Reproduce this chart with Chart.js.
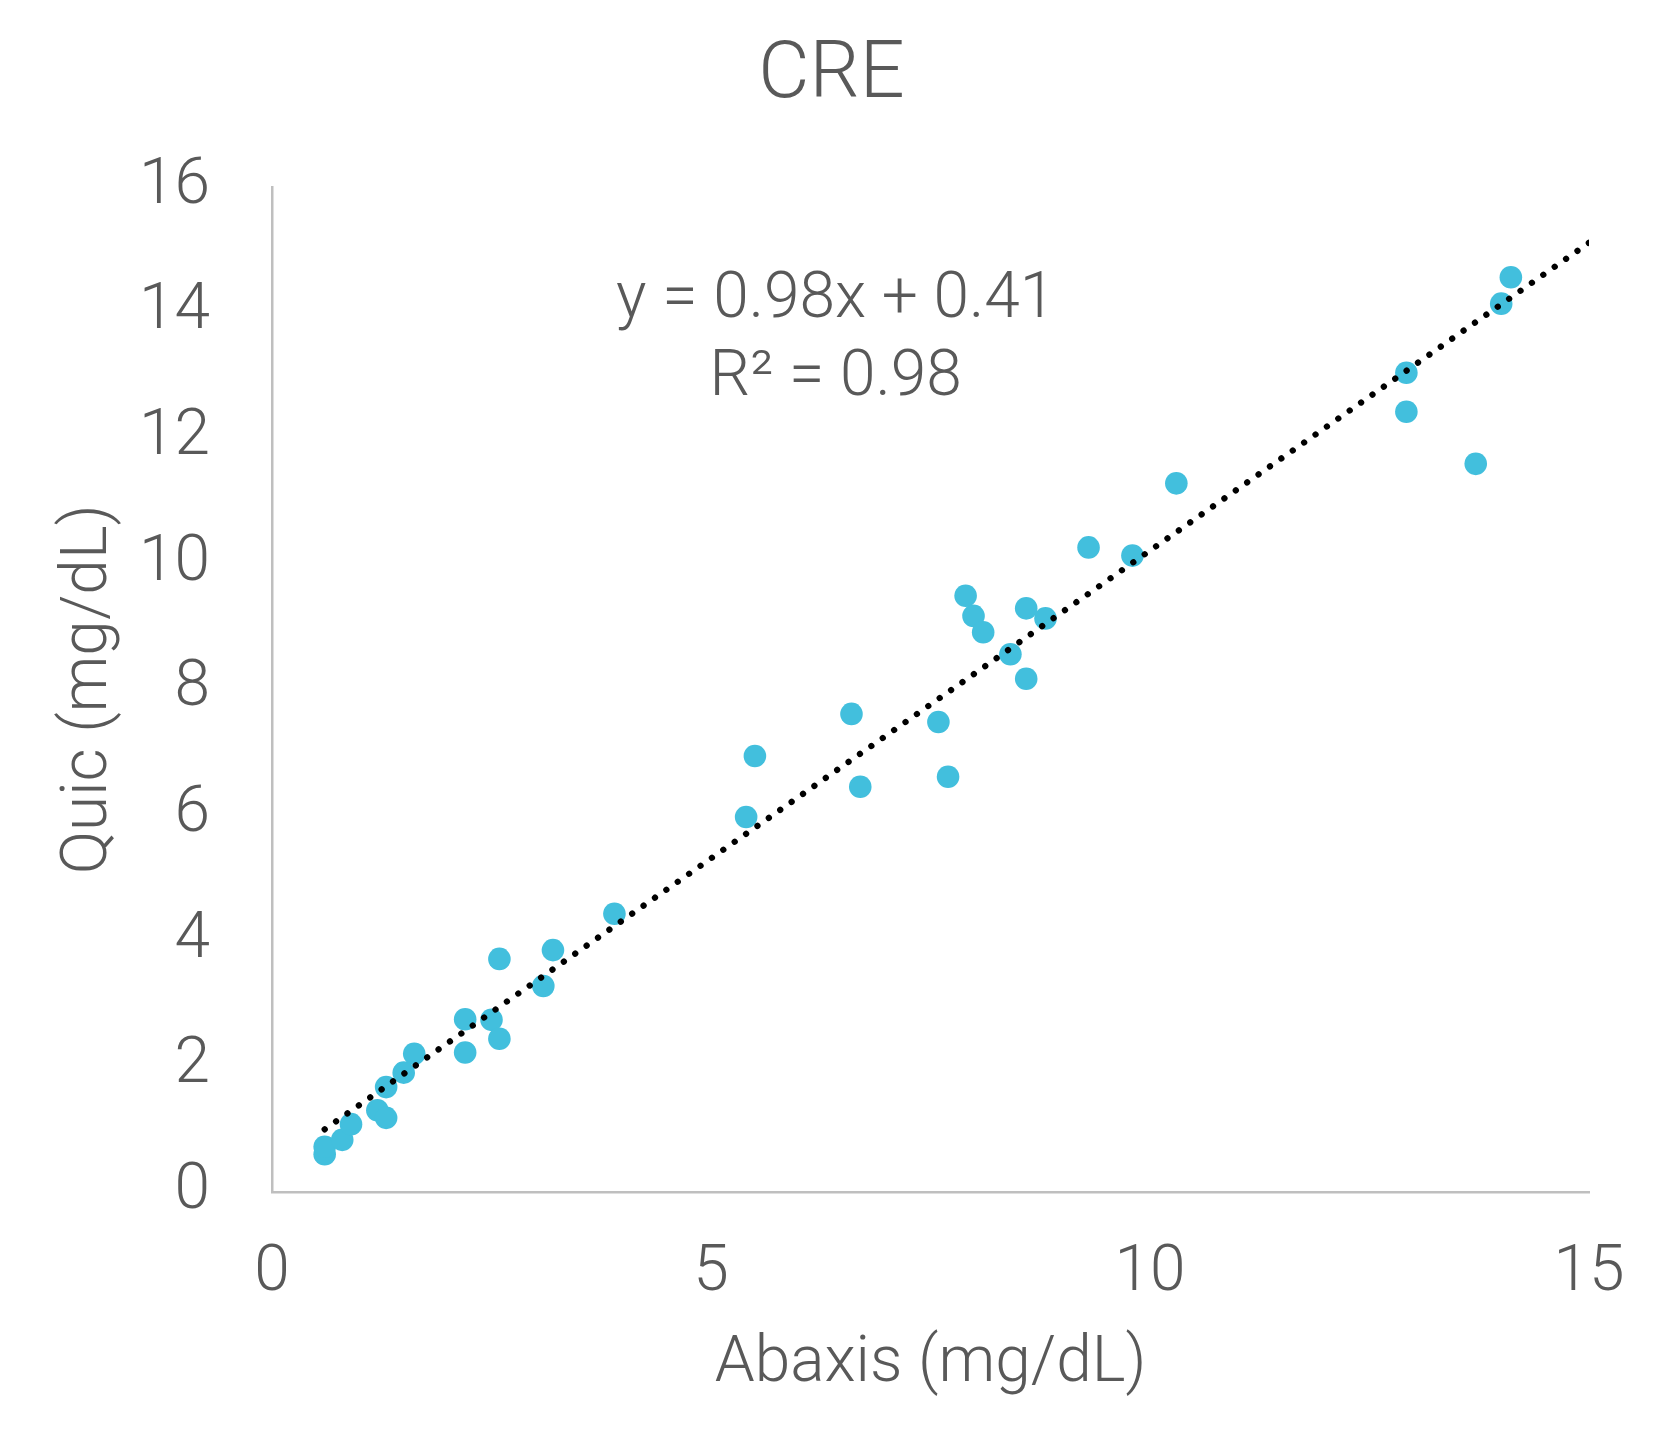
<!DOCTYPE html>
<html lang="en">
<head>
  <meta charset="UTF-8">
  <title>CRE</title>
  <script src="https://cdn.jsdelivr.net/npm/chart.js"></script>
  <style>
    body {
      margin: 0;
      padding: 0;
      background: #fff;
    }
    #wrap {
      width: 1663px;
      height: 1449px;
    }
  </style>
</head>
<body>
  <div id="wrap"><canvas id="creChart"></canvas></div>

  <script>
    // Abaxis vs Quic readings (mg/dL)
    const abaxis = [0.6, 0.6, 0.8, 0.9, 1.2, 1.3, 1.3, 1.5, 1.62, 2.2, 2.2, 2.5, 2.59, 2.59, 3.09, 3.2, 3.9,
      5.4, 5.5, 6.6, 6.7, 7.59, 7.7, 7.9, 7.99, 8.1, 8.41, 8.59, 8.59, 8.81, 9.3, 9.8, 10.3,
      12.92, 12.92, 13.71, 14.0, 14.11];
    const quic = [0.6, 0.72, 0.83, 1.08, 1.3, 1.18, 1.67, 1.9, 2.2, 2.22, 2.75, 2.74, 2.44, 3.71, 3.28, 3.85, 4.43,
      5.97, 6.94, 7.61, 6.45, 7.48, 6.61, 9.49, 9.17, 8.91, 8.56, 9.29, 8.17, 9.13, 10.26, 10.13, 11.28,
      13.04, 12.42, 11.59, 14.14, 14.56];

    // linear trendline ends, as drawn
    const trendX = [0.6, 15];
    const trendY = [0.998, 15.11];

    const xTicks = [0, 5, 10, 15];
    const yTicks = [0, 2, 4, 6, 8, 10, 12, 14, 16];

    const equationLines = ['y = 0.98x + 0.41', 'R\u00b2 = 0.98'];
    const equationAt = { x: 6.42, y: [13.92, 12.69] };

    const textGrey = '#595959';
    const fontFamily = 'Roboto, "Open Sans", sans-serif';

    const pointData = abaxis.map((x, i) => ({ x: x, y: quic[i] }));
    const trendData = trendX.map((x, i) => ({ x: x, y: trendY[i] }));

    const equationLabel = {
      id: 'equationLabel',
      afterDatasetsDraw(chart) {
        const { ctx, scales } = chart;
        ctx.save();
        ctx.font = '300 64px ' + fontFamily;
        ctx.fillStyle = textGrey;
        ctx.textAlign = 'center';
        ctx.textBaseline = 'alphabetic';
        const px = scales.x.getPixelForValue(equationAt.x);
        equationLines.forEach((line, i) => {
          ctx.fillText(line, px, scales.y.getPixelForValue(equationAt.y[i]));
        });
        ctx.restore();
      }
    };

    const tickFont = { family: fontFamily, size: 64, weight: '300', lineHeight: 1.2 };

    new Chart(document.getElementById('creChart'), {
      type: 'scatter',
      data: {
        datasets: [
          {
            label: 'Linear trend',
            type: 'line',
            data: trendData,
            order: 0,
            showLine: true,
            pointRadius: 0,
            borderColor: '#000',
            borderWidth: 6.3,
            borderDash: [0.01, 13.9],
            borderCapStyle: 'round',
            fill: false
          },
          {
            label: 'CRE',
            data: pointData,
            order: 1,
            pointRadius: 11.3,
            pointHoverRadius: 11.3,
            pointBorderWidth: 0,
            backgroundColor: '#42bfdd',
            borderColor: '#42bfdd'
          }
        ]
      },
      options: {
        responsive: true,
        maintainAspectRatio: false,
        devicePixelRatio: 1,
        animation: false,
        layout: { padding: 0 },
        plugins: {
          legend: { display: false },
          tooltip: { enabled: false },
          title: {
            display: true,
            text: 'CRE',
            color: textGrey,
            font: { family: fontFamily, size: 79, weight: '300', lineHeight: 1.2 },
            padding: { top: 30, bottom: 62 }
          }
        },
        scales: {
          x: {
            type: 'linear',
            min: 0,
            max: 15,
            afterBuildTicks: s => { s.ticks = xTicks.map(v => ({ value: v })); },
            afterFit: s => {
              s.height = 257;
              s.paddingLeft = 0;
              s.paddingRight = 0;
            },
            grid: { display: false, drawTicks: false },
            border: { display: true, color: '#bfbfbf', width: 2.5 },
            ticks: { color: textGrey, padding: 44, font: tickFont },
            title: {
              display: true,
              text: 'Abaxis (mg/dL)',
              color: textGrey,
              padding: { top: 0, bottom: 46 },
              font: tickFont
            }
          },
          y: {
            type: 'linear',
            min: 0,
            max: 16,
            afterBuildTicks: s => { s.ticks = yTicks.map(v => ({ value: v })); },
            afterFit: s => { s.width = 272; },
            grid: { display: false, drawTicks: false },
            border: { display: true, color: '#bfbfbf', width: 2.5 },
            ticks: { color: textGrey, padding: 62, font: tickFont },
            title: {
              display: true,
              text: 'Quic (mg/dL)',
              color: textGrey,
              padding: { top: 52, bottom: 0 },
              font: tickFont
            }
          },
          // empty right-hand strip so the plot ends where the reference does
          yRight: {
            type: 'linear',
            position: 'right',
            min: 0,
            max: 16,
            afterFit: s => { s.width = 74; },
            grid: { display: false, drawTicks: false },
            border: { display: false },
            ticks: { display: false }
          }
        }
      },
      plugins: [equationLabel]
    });
  </script>
</body>
</html>
